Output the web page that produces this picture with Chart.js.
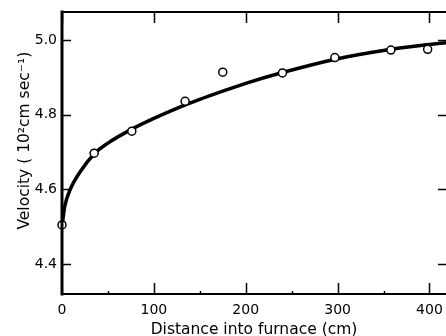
<!DOCTYPE html>
<html>
<head>
<meta charset="utf-8">
<script src="https://cdn.jsdelivr.net/npm/chart.js@4/dist/chart.umd.min.js"></script>
<style>
  body { margin: 0; background: #fff; }
  #wrap { width: 446px; height: 336px; }
</style>
</head>
<body>
<div id="wrap"><canvas id="chart" width="446" height="336"></canvas></div>
<script>
// measured points
const pointX = [0, 35, 76, 134, 175, 240, 297, 358, 398];
const pointY = [4.505, 4.697, 4.756, 4.836, 4.914, 4.912, 4.953, 4.973, 4.975];

// fitted curve
const curveX = [0, 3, 9, 20, 35, 50, 75, 100, 125, 150, 175, 200, 240, 300, 350, 400, 418];
const curveY = [4.50, 4.555, 4.60, 4.648, 4.695, 4.724, 4.76, 4.79, 4.817, 4.841, 4.863, 4.884, 4.913, 4.95, 4.972, 4.988, 4.993];

const xTicks = [0, 100, 200, 300, 400];
const yTicks = [4.4, 4.6, 4.8, 5.0];

const tickFont = { family: 'DejaVu Sans', size: 14 };
const titleFont = { family: 'DejaVu Sans', size: 15.5 };

const frame = {
    id: 'frame',
    afterDraw(chart) {
        const { ctx, chartArea: a } = chart;
        const x = chart.scales.x, y = chart.scales.y;
        ctx.save();
        ctx.strokeStyle = '#000';
        ctx.lineCap = 'square';
        // box
        ctx.lineWidth = 3;
        ctx.beginPath(); ctx.moveTo(a.left, a.top); ctx.lineTo(a.left, a.bottom); ctx.stroke();
        ctx.lineWidth = 2;
        ctx.beginPath(); ctx.moveTo(a.left, a.bottom); ctx.lineTo(a.right, a.bottom); ctx.stroke();
        ctx.beginPath(); ctx.moveTo(a.left, a.top); ctx.lineTo(a.right, a.top); ctx.stroke();
        // inward ticks
        ctx.lineWidth = 1.5;
        ctx.lineCap = 'butt';
        x.ticks.forEach(t => {
            const px = Math.round(x.getPixelForValue(t.value)) + 0.5;
            if (t.value > 0) {
                ctx.beginPath(); ctx.moveTo(px, a.bottom); ctx.lineTo(px, a.bottom - 11); ctx.stroke();
            }
            ctx.beginPath(); ctx.moveTo(px, a.top); ctx.lineTo(px, a.top + 11); ctx.stroke();
        });
        [50, 150, 250, 350].forEach(v => {
            const px = Math.round(x.getPixelForValue(v)) + 0.5;
            ctx.beginPath(); ctx.moveTo(px, a.bottom); ctx.lineTo(px, a.bottom - 3); ctx.stroke();
        });
        y.ticks.forEach(t => {
            const py = Math.round(y.getPixelForValue(t.value)) + 0.5;
            ctx.beginPath(); ctx.moveTo(a.left, py); ctx.lineTo(a.left + 9, py); ctx.stroke();
            ctx.beginPath(); ctx.moveTo(a.right, py); ctx.lineTo(a.right - 8, py); ctx.stroke();
        });
        ctx.restore();
    }
};

new Chart(document.getElementById('chart'), {
    type: 'scatter',
    data: {
        datasets: [{
            label: 'measured',
            data: pointX.map((v, i) => ({ x: v, y: pointY[i] })),
            pointRadius: 4,
            pointBackgroundColor: '#fff',
            pointBorderColor: '#000',
            pointBorderWidth: 1.5,
            clip: false
        }, {
            label: 'fit',
            data: curveX.map((v, i) => ({ x: v, y: curveY[i] })),
            showLine: true,
            borderColor: '#000',
            borderWidth: 3.5,
            pointRadius: 0,
            cubicInterpolationMode: 'monotone',
            fill: false
        }]
    },
    options: {
        responsive: false,
        animation: false,
        layout: { autoPadding: false, padding: { top: 12, right: 0, left: 0, bottom: 0 } },
        plugins: { legend: { display: false }, tooltip: { enabled: false } },
        scales: {
            x: {
                type: 'linear',
                min: 0,
                max: 418,
                grid: { display: false, drawTicks: false },
                border: { display: false },
                afterBuildTicks: s => { s.ticks = xTicks.map(v => ({ value: v })); },
                afterFit: s => { s.height = 42; s.paddingLeft = 0; s.paddingRight = 0; },
                ticks: { color: '#000', font: tickFont, padding: 8, maxRotation: 0, callback: v => String(v) },
                title: { display: true, text: 'Distance into furnace (cm)', color: '#000', font: titleFont, padding: { top: 0, bottom: -3 } }
            },
            y: {
                min: 4.32,
                max: 5.075,
                grid: { display: false, drawTicks: false },
                border: { display: false },
                afterBuildTicks: s => { s.ticks = yTicks.map(v => ({ value: v })); },
                afterFit: s => { s.width = 62; s.paddingTop = 0; s.paddingBottom = 0; },
                ticks: { color: '#000', font: tickFont, padding: 5, callback: v => v.toFixed(1) },
                title: { display: true, text: '     Velocity ( 10²cm sec⁻¹)', color: '#000', font: titleFont, padding: { top: 16, bottom: 0 } }
            }
        }
    },
    plugins: [frame]
});
</script>
</body>
</html>
